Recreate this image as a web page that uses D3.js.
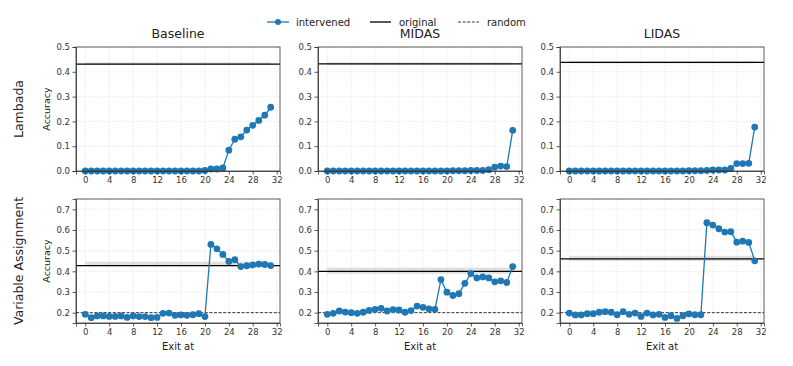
<!DOCTYPE html>
<html lang="en">
<head>
<meta charset="utf-8">
<title>Intervention accuracy by exit layer</title>
<script src="https://d3js.org/d3.v7.min.js"></script>
<style>
  body { margin: 0; background: #fff; font-family: "DejaVu Sans", sans-serif; }
  .grid line { stroke: #e3e3e3; stroke-dasharray: 1.5,1.5; stroke-width: 0.8; }
  .axis text { font-size: 8.5px; fill: #333; font-family: "DejaVu Sans", sans-serif; }
  .axis path, .axis line { stroke: #333; stroke-width: 0.8; }
</style>
</head>
<body>
<div class="chart"></div>
<script>
// methods (columns) and tasks (rows)
const methods = ["Baseline", "MIDAS", "LIDAS"];
const tasks = ["Lambada", "Variable Assignment"];
const exits = d3.range(0, 32);

// intervened accuracy per exit
const lambadaBaseline = [0,0,0,0,0,0,0,0,0,0,0,0,0,0,0,0,0,0,0,0,0.002,0.008,0.008,0.012,0.084,0.128,0.138,0.165,0.184,0.204,0.225,0.257];
const lambadaMidas = [0,0,0,0,0,0,0,0,0,0,0,0,0,0,0,0,0,0,0,0,0,0.001,0.001,0.001,0.002,0.002,0.002,0.005,0.016,0.02,0.018,0.164];
const lambadaLidas = [0,0,0,0,0,0,0,0,0,0,0,0,0,0,0,0,0,0,0,0,0.001,0.001,0.001,0.002,0.004,0.004,0.004,0.01,0.03,0.03,0.031,0.177];
const varBaseline = [0.192,0.176,0.184,0.184,0.182,0.182,0.184,0.177,0.184,0.181,0.181,0.176,0.177,0.197,0.198,0.187,0.189,0.187,0.19,0.195,0.181,0.53,0.509,0.482,0.448,0.456,0.423,0.427,0.431,0.435,0.433,0.428];
const varMidas = [0.192,0.197,0.208,0.203,0.2,0.197,0.202,0.211,0.216,0.221,0.208,0.215,0.213,0.202,0.21,0.232,0.226,0.218,0.216,0.36,0.299,0.283,0.292,0.342,0.389,0.368,0.373,0.368,0.349,0.354,0.346,0.423];
const varLidas = [0.198,0.189,0.189,0.195,0.195,0.202,0.205,0.202,0.19,0.205,0.192,0.198,0.182,0.198,0.189,0.192,0.177,0.185,0.172,0.185,0.194,0.19,0.19,0.635,0.624,0.606,0.59,0.592,0.541,0.546,0.54,0.451];

// original model accuracy with its spread band
const originalMean = [[0.431, 0.432, 0.438], [0.428, 0.40, 0.46]];
const originalLow = [[0.428, 0.428, 0.434], [0.425, 0.388, 0.45]];
const originalHigh = [[0.438, 0.438, 0.443], [0.447, 0.418, 0.475]];
const randomLevel = [null, 0.2];

const yDomains = [[0, 0.5], [0.15, 0.75]];
const yTicks = [[0, 0.1, 0.2, 0.3, 0.4, 0.5], [0.2, 0.3, 0.4, 0.5, 0.6, 0.7]];
const xTicks = [0, 4, 8, 12, 16, 20, 24, 28, 32];

const series = [[lambadaBaseline, lambadaMidas, lambadaLidas], [varBaseline, varMidas, varLidas]];

const W = 793, H = 366;
const blue = "#1f77b4";
const colLeft = [76, 318, 560];
const pw = 204;
const rowTop = [47, 199];
const ph = 124;

const svg = d3.select(".chart").append("svg")
    .attr("width", W).attr("height", H);

tasks.forEach((task, r) => {
    methods.forEach((method, c) => {
        const g = svg.append("g")
            .attr("transform", `translate(${colLeft[c]},${rowTop[r]})`);
        const x = d3.scaleLinear().domain([-1.55, 32.55]).range([0, pw]);
        const y = d3.scaleLinear().domain(yDomains[r]).range([ph, 0]);

        // grid
        const grid = g.append("g").attr("class", "grid");
        grid.selectAll(".gx").data(xTicks).enter().append("line")
            .attr("x1", d => x(d)).attr("x2", d => x(d))
            .attr("y1", 0).attr("y2", ph);
        grid.selectAll(".gy").data(yTicks[r]).enter().append("line")
            .attr("x1", 0).attr("x2", pw)
            .attr("y1", d => y(d)).attr("y2", d => y(d));

        // original band + line
        g.append("rect")
            .attr("x", x(0)).attr("width", x(31) - x(0))
            .attr("y", y(originalHigh[r][c]))
            .attr("height", y(originalLow[r][c]) - y(originalHigh[r][c]))
            .attr("fill", "#000").attr("fill-opacity", 0.12);
        g.append("line")
            .attr("x1", 0).attr("x2", pw)
            .attr("y1", y(originalMean[r][c])).attr("y2", y(originalMean[r][c]))
            .attr("stroke", "#000").attr("stroke-width", 1.3);

        if (randomLevel[r] !== null) {
            g.append("line")
                .attr("x1", 0).attr("x2", pw)
                .attr("y1", y(randomLevel[r])).attr("y2", y(randomLevel[r]))
                .attr("stroke", "#000").attr("stroke-width", 0.8)
                .attr("stroke-dasharray", "3,1.6");
        }

        const vals = series[r][c];
        const line = d3.line().x((d, i) => x(exits[i])).y(d => y(d));
        g.append("path").datum(vals)
            .attr("d", line).attr("fill", "none")
            .attr("stroke", blue).attr("stroke-width", 1.3);
        g.selectAll("circle").data(vals).enter().append("circle")
            .attr("cx", (d, i) => x(exits[i])).attr("cy", d => y(d))
            .attr("r", 3.4).attr("fill", blue);

        // axes
        g.append("g").attr("class", "axis")
            .attr("transform", `translate(0,${ph})`)
            .call(d3.axisBottom(x).tickValues(xTicks).tickSize(3.5).tickPadding(2.5).tickFormat(d3.format("d")));
        g.append("g").attr("class", "axis")
            .call(d3.axisLeft(y).tickValues(yTicks[r]).tickSize(3.5).tickPadding(2.5).tickFormat(d3.format(".1f")));
        g.append("rect")
            .attr("width", pw).attr("height", ph)
            .attr("fill", "none").attr("stroke", "#333").attr("stroke-width", 0.8);

        if (r === 0) {
            g.append("text")
                .attr("x", pw / 2).attr("y", -9)
                .attr("text-anchor", "middle")
                .attr("font-size", 12.5).attr("fill", "#222")
                .text(method);
        }
        if (r === 1) {
            g.append("text")
                .attr("x", pw / 2).attr("y", ph + 27)
                .attr("text-anchor", "middle")
                .attr("font-size", 10).attr("fill", "#222")
                .text("Exit at");
        }
        if (c === 0) {
            g.append("text")
                .attr("transform", `translate(-26,${ph / 2}) rotate(-90)`)
                .attr("text-anchor", "middle")
                .attr("font-size", 9.5).attr("fill", "#222")
                .text("Accuracy");
            g.append("text")
                .attr("transform", `translate(-53,${ph / 2}) rotate(-90)`)
                .attr("text-anchor", "middle")
                .attr("font-size", 12.5).attr("fill", "#222")
                .text(task);
        }
    });
});

// legend
const legend = svg.append("g").attr("transform", "translate(0,22)");
legend.append("line").attr("x1", 267).attr("x2", 289).attr("y1", 0).attr("y2", 0)
    .attr("stroke", blue).attr("stroke-width", 1.3);
legend.append("circle").attr("cx", 278).attr("cy", 0).attr("r", 3).attr("fill", blue);
legend.append("line").attr("x1", 370).attr("x2", 391).attr("y1", 0).attr("y2", 0)
    .attr("stroke", "#000").attr("stroke-width", 1.3);
legend.append("line").attr("x1", 458).attr("x2", 479).attr("y1", 0).attr("y2", 0)
    .attr("stroke", "#000").attr("stroke-width", 0.8).attr("stroke-dasharray", "3,1.6");
const legendLabels = [["intervened", 296], ["original", 399], ["random", 487]];
legend.selectAll("text").data(legendLabels).enter().append("text")
    .attr("x", d => d[1]).attr("y", 3.5)
    .attr("font-size", 10).attr("fill", "#222")
    .text(d => d[0]);
</script>
</body>
</html>
